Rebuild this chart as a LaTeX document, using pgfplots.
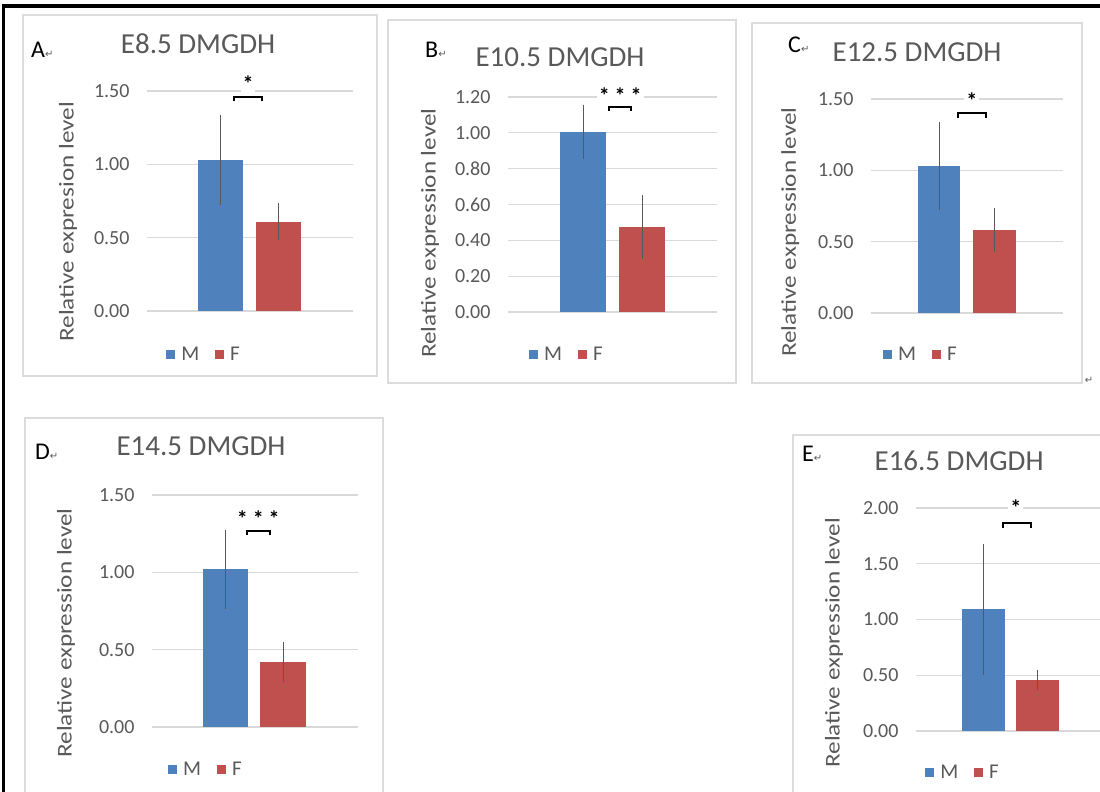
\documentclass[border=0pt]{standalone}
\usepackage{pgfplots}
\pgfplotsset{compat=1.18}
\usepackage{fontspec}
\setmainfont{Carlito}
\newfontfamily\symfont{DejaVu Sans}
\definecolor{mblue}{HTML}{4F81BD}
\definecolor{fred}{HTML}{C0504D}
\definecolor{txt}{HTML}{595959}
\definecolor{gridc}{HTML}{D9D9D9}
\definecolor{boxc}{HTML}{DCDCDC}
\definecolor{errc}{HTML}{595959}
\newcommand{\ret}{{\symfont\fontsize{10}{11}\selectfont\textcolor{txt}{↵}}}
\tikzset{
  star/.style={fill=white, inner sep=2pt, text=black, font=\fontsize{22}{22}\selectfont\bfseries},
  brk/.style={line width=2pt, black},
  letter/.style={font=\fontsize{24}{26}\selectfont, anchor=west, inner sep=0pt},
}
\pgfplotsset{
  panel/.style={
    scale only axis, anchor=south west,
    ybar, bar shift=0pt,
    ymin=0,
    clip=false,
    axis line style={draw=none},
    major tick length=0pt,
    xtick=\empty,
    ymajorgrids,
    grid style={draw=gridc, line width=1.2pt},
    yticklabel style={font=\fontsize{20}{22}\selectfont, text=txt, xshift=-14pt,
       /pgf/number format/.cd, fixed, fixed zerofill, precision=2, assume math mode=true},
    ylabel style={font=\fontsize{21}{24}\selectfont, text=txt, anchor=center, xscale=1.2},
    title style={font=\fontsize{29}{32}\selectfont, text=txt, anchor=center},
    legend style={draw=none, fill=none, font=\fontsize{21}{23}\selectfont\color{txt},
      legend columns=2, anchor=center,
      /tikz/every odd column/.append style={column sep=4pt},
      /tikz/every even column/.append style={column sep=14pt}},
    legend image code/.code={\fill[##1] (0pt,-4.5pt) rectangle (9pt,4.5pt);},
  },
  ebar/.style={error bars/.cd, y dir=both, y explicit,
    error bar style={draw=errc, line width=1pt},
    error mark options={draw=errc, line width=1pt, mark size=4pt}},
  mbar/.style={fill=mblue, draw=none, ebar},
  fbar/.style={fill=fred, draw=none, ebar},
}
\begin{document}
\begin{tikzpicture}[x=1pt, y=1pt]
\useasboundingbox (0,0) rectangle (1100,792);
% outer frame
\draw[line width=3.5pt] (3.5,-5) -- (3.5,786) -- (1105,786);
% panel boxes
\draw[boxc, line width=1.2pt] (23,777) rectangle (377,416);
\draw[boxc, line width=1.2pt] (388,772) rectangle (736,409);
\draw[boxc, line width=1.2pt] (752,769) rectangle (1082,409);
\draw[boxc, line width=1.2pt] (25,374) rectangle (383,-5);
\draw[boxc, line width=1.2pt] (793,357) rectangle (1110,-5);
% panel letters
\node[letter] at (31,742) {A\ret};
\node[letter] at (425,742) {B\ret};
\node[letter] at (788,747) {C\ret};
\node[letter] at (35,340) {D\ret};
\node[letter] at (802,338) {E\ret};
\node at (1089,412) {\ret};

% ---------- A ----------
\begin{axis}[panel, at={(147pt,481pt)}, width=206pt, height=220pt,
  xmin=-0.267, xmax=3.284, ymax=1.5, ytick={0,0.5,1,1.5}, bar width=0.78,
  title={E8.5 DMGDH}, title style={at={(axis description cs:0.248,1.186)}},
  ylabel={Relative expresion level}, ylabel style={at={(axis description cs:-0.383,0.405)}},
  legend style={at={(axis description cs:0.277,-0.2)}}]
\addplot[mbar] coordinates {(1,1.03) +- (0,0.28)};
\addplot[fbar] coordinates {(2,0.61) +- (0,0.10)};
\legend{M,F}
\draw[brk] (axis cs:1.233,1.43) -- (axis cs:1.233,1.46) -- (axis cs:1.716,1.46) -- (axis cs:1.716,1.43);
\node[star] at (axis cs:1.474,1.55) {*};
\end{axis}

% ---------- B ----------
\begin{axis}[panel, at={(508pt,480pt)}, width=209pt, height=215pt,
  xmin=-0.271, xmax=3.271, ymax=1.2, ytick={0,0.2,0.4,0.6,0.8,1.0,1.2}, bar width=0.78,
  title={E10.5 DMGDH}, title style={at={(axis description cs:0.249,1.158)}},
  ylabel={Relative expression level}, ylabel style={at={(axis description cs:-0.373,0.367)}},
  legend style={at={(axis description cs:0.282,-0.2)}}]
\addplot[mbar] coordinates {(1,1.005) +- (0,0.13)};
\addplot[fbar] coordinates {(2,0.475) +- (0,0.155)};
\legend{M,F}
\draw[brk] (axis cs:1.44,1.122) -- (axis cs:1.44,1.144) -- (axis cs:1.81,1.144) -- (axis cs:1.81,1.122);
\node[star] at (axis cs:1.63,1.21) {* * *};
\end{axis}

% ---------- C ----------
\begin{axis}[panel, at={(871pt,479pt)}, width=192pt, height=214pt,
  xmin=-0.225, xmax=3.234, ymax=1.5, ytick={0,0.5,1,1.5}, bar width=0.77,
  title={E12.5 DMGDH}, title style={at={(axis description cs:0.24,1.19)}},
  ylabel={Relative expression level}, ylabel style={at={(axis description cs:-0.42,0.378)}},
  legend style={at={(axis description cs:0.26,-0.196)}}]
\addplot[mbar] coordinates {(1,1.03) +- (0,0.28)};
\addplot[fbar] coordinates {(2,0.58) +- (0,0.125)};
\legend{M,F}
\draw[brk] (axis cs:1.34,1.37) -- (axis cs:1.34,1.40) -- (axis cs:1.85,1.40) -- (axis cs:1.85,1.37);
\node[star] at (axis cs:1.59,1.49) {*};
\end{axis}

% ---------- D ----------
\begin{axis}[panel, at={(152pt,65pt)}, width=206pt, height=232pt,
  xmin=-0.278, xmax=3.304, ymax=1.5, ytick={0,0.5,1,1.5}, bar width=0.79,
  title={E14.5 DMGDH}, title style={at={(axis description cs:0.238,1.185)}},
  ylabel={Relative expression level}, ylabel style={at={(axis description cs:-0.417,0.405)}},
  legend style={at={(axis description cs:0.262,-0.185)}}]
\addplot[mbar] coordinates {(1,1.02) +- (0,0.23)};
\addplot[fbar] coordinates {(2,0.42) +- (0,0.105)};
\legend{M,F}
\draw[brk] (axis cs:1.374,1.24) -- (axis cs:1.374,1.27) -- (axis cs:1.774,1.27) -- (axis cs:1.774,1.24);
\node[star] at (axis cs:1.57,1.35) {* * *};
\end{axis}

% ---------- E ----------
\begin{axis}[panel, at={(916pt,61pt)}, width=189pt, height=223pt,
  xmin=-0.25, xmax=3.25, ymax=2, ytick={0,0.5,1,1.5,2}, bar width=0.78,
  title={E16.5 DMGDH}, title style={at={(axis description cs:0.228,1.184)}},
  ylabel={Relative expression level}, ylabel style={at={(axis description cs:-0.434,0.395)}},
  legend style={at={(axis description cs:0.249,-0.188)}}]
\addplot[mbar] coordinates {(1,1.09) +- (0,0.555)};
\addplot[fbar] coordinates {(2,0.457) +- (0,0.05)};
\legend{M,F}
\draw[brk] (axis cs:1.36,1.825) -- (axis cs:1.36,1.865) -- (axis cs:1.88,1.865) -- (axis cs:1.88,1.825);
\node[star] at (axis cs:1.60,2.0) {*};
\end{axis}
\end{tikzpicture}
\end{document}
